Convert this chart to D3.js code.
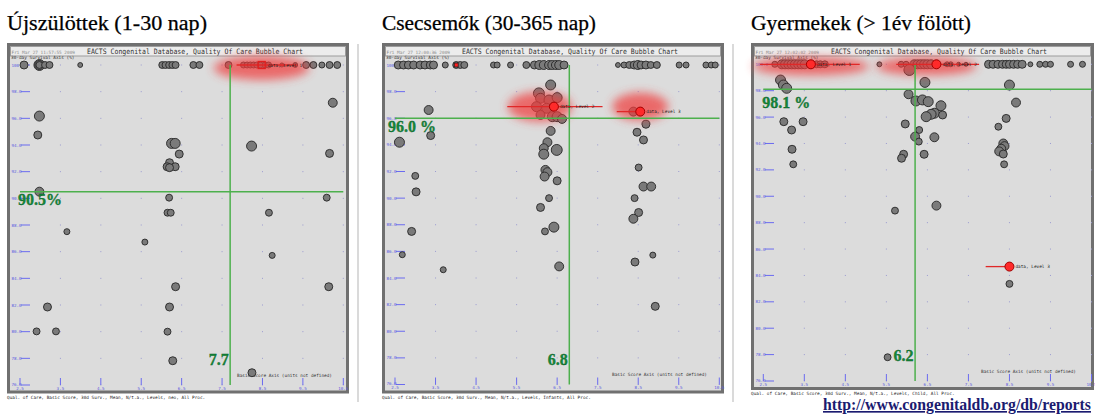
<!DOCTYPE html>
<html>
<head>
<meta charset="utf-8">
<script src="https://cdn.jsdelivr.net/npm/d3@7"></script>
<style>
  html, body { margin: 0; padding: 0; background: #ffffff; }
  svg { display: block; }
</style>
</head>
<body>
<svg id="chart" width="1095" height="415"></svg>
<script>
// ---------- shared axes ----------
const scoreTicks = [2.5, 3.5, 4.5, 5.5, 6.5, 7.5, 8.5, 9.5, 10.5];
const survivalTicks = [76, 78, 80, 82, 84, 86, 88, 90, 92, 94, 96, 98, 100];

const panelTitles = ["Újszülöttek (1-30 nap)", "Csecsemők (30-365 nap)", "Gyermekek (> 1év fölött)"];
const chartTitle = "EACTS Congenital Database, Quality Of Care Bubble Chart";
const panelStamps = ["Fri Mar 27 11:57:55 2009", "Fri Mar 27 12:00:36 2009", "Fri Mar 27 12:02:02 2009"];
const panelFooters = [
  "Qual. of Care, Basic Score, 30d Surv., Mean, N/t.a., Levels, neo, All Proc.",
  "Qual. of Care, Basic Score, 30d Surv., Mean, N/t.a., Levels, Infants, All Proc.",
  "Qual. of Care, Basic Score, 30d Surv., Mean, N/t.a., Levels, Child, All Proc."
];
const survivalAxisTitle = "30-day Survival Axis (%)";
const scoreAxisTitle = "Basic Score Axis (units not defined)";
const sourceUrl = "http://www.congenitaldb.org/db/reports";

// mean basic score / mean survival per age group
const meanScore = [7.7, 6.8, 6.2];
const meanSurvival = [90.5, 96.0, 98.1];
const meanScoreLabels = ["7.7", "6.8", "6.2"];
const meanSurvivalLabels = ["90.5%", "96.0 %", "98.1 %"];

// ---------- neonates ----------
const neoScore = [2.6, 2.98, 2.98, 2.98, 3.12, 3.23, 3.99, 6.02, 6.1, 6.19, 6.27, 6.35, 6.79, 6.94, 7.66,
  8.03, 8.12, 8.2, 8.28, 8.36, 8.45, 8.57, 8.65, 8.98, 9.31, 9.58, 9.76, 9.97, 10.16, 10.35,
  10.24, 2.98, 2.94, 6.25, 6.34, 6.44, 8.23, 10.16, 6.2, 6.14, 6.34, 6.2, 2.98, 6.19, 10.09,
  6.15, 6.23, 8.66, 3.66, 5.59, 8.74, 6.35, 10.14, 3.18, 6.2, 2.91, 3.39, 6.15, 6.28, 8.24];
const neoSurvival = [100, 100, 100, 100, 100, 100, 100, 100, 100, 100, 100, 100, 100, 100, 100,
  100, 100, 100, 100, 100, 100, 100, 100, 100, 100, 100, 100, 100, 100, 100,
  97.17, 96.17, 94.75, 94.12, 94.12, 93.32, 93.92, 93.37, 92.67, 92.37, 92.37, 92.3, 90.5, 90.05, 90.05,
  88.92, 88.92, 88.92, 87.5, 86.72, 85.72, 83.37, 83.37, 81.85, 81.85, 80.02, 80.02, 80.0, 77.82, 76.92];
const neoCases = [16, 30, 20, 12, 12, 12, 6, 12, 12, 12, 12, 12, 12, 12, 12,
  9, 9, 9, 9, 9, 9, 9, 9, 4, 6, 12, 12, 9, 12, 12,
  20, 25, 16, 25, 25, 16, 25, 16, 16, 16, 16, 16, 20, 12, 12,
  12, 12, 12, 9, 9, 9, 16, 16, 16, 16, 12, 12, 12, 16, 16];
const neoLevelName = ["Level 1"];
const neoLevelScore = [8.48];
const neoLevelSurvival = [100];
const neoLevelLow = [7.86];
const neoLevelHigh = [9.35];

// ---------- infants ----------
const infScore = [2.58, 2.71, 2.83, 2.96, 3.12, 3.24, 3.37, 3.45, 3.74, 4.01, 4.11, 4.21, 4.93, 5.02, 5.35,
  5.74, 5.94, 6.06, 6.17, 6.3, 6.38, 6.47, 6.55, 6.67, 8.0, 8.15, 8.28, 8.4, 8.49, 8.57, 8.69,
  8.81, 8.96, 9.51, 9.68, 10.17, 10.3, 10.4,
  6.34, 6.05, 6.09, 6.3, 6.5, 5.99, 6.24, 6.09, 6.38, 6.5, 6.62, 3.33, 3.38, 2.61, 6.34, 6.26,
  6.17, 6.49, 6.17, 8.38, 8.69, 8.47, 8.63, 6.21, 6.26, 6.19, 6.5, 3.0, 3.02, 6.3, 6.09, 6.42,
  6.2, 2.91, 2.68, 3.69, 6.55, 8.51, 8.63, 8.82, 8.41, 8.51, 8.38, 8.86, 8.42, 8.92];
const infSurvival = [100, 100, 100, 100, 100, 100, 100, 100, 100, 100, 100, 100, 100, 100, 100,
  100, 100, 100, 100, 100, 100, 100, 100, 100, 100, 100, 100, 100, 100, 100, 100,
  100, 100, 100, 100, 100, 100, 100,
  98.5, 97.87, 97.5, 97.37, 97.55, 96.87, 96.75, 96.25, 96.12, 96.12, 95.95, 96.62, 94.7, 94.2, 95.05, 94.2,
  93.75, 93.62, 93.3, 96.5, 95.55, 94.95, 94.37, 92.12, 91.95, 91.62, 91.3, 91.67, 90.47, 90.0, 89.3, 87.82,
  87.5, 87.5, 85.75, 84.62, 84.87, 92.3, 90.87, 90.87, 90.0, 88.92, 88.45, 85.72, 85.2, 81.87];
const infCases = [16, 16, 16, 16, 16, 16, 16, 16, 9, 12, 12, 12, 9, 9, 9,
  12, 16, 20, 20, 20, 20, 20, 20, 16, 6, 9, 12, 16, 20, 16, 16,
  12, 12, 9, 9, 9, 9, 9,
  25, 30, 25, 25, 25, 25, 25, 20, 25, 25, 20, 20, 16, 25, 20, 20,
  20, 30, 25, 20, 16, 16, 16, 20, 20, 20, 16, 12, 16, 12, 16, 25,
  12, 16, 9, 9, 20, 12, 20, 20, 12, 16, 20, 9, 16, 16];
const infLevelName = ["Level 2", "Level 3"];
const infLevelScore = [6.42, 8.55];
const infLevelSurvival = [96.87, 96.5];
const infLevelLow = [5.27, 7.97];
const infLevelHigh = [7.62, 8.55];
const infFlagScore = [4.01];
const infFlagSurvival = [100];

// ---------- children ----------
const chScore = [2.78, 2.95, 3.03, 3.11, 3.19, 3.27, 3.35, 3.43, 3.51, 3.8, 3.89, 4.0, 5.33, 5.86, 5.98,
  6.18, 6.26, 6.34, 6.42, 6.5, 6.59, 6.06, 6.98, 7.07, 7.26, 7.44,
  7.99, 8.1, 8.22, 8.33, 8.42, 8.5, 8.6, 8.7, 8.81, 9.01, 9.24, 9.38, 9.5, 9.99, 10.28,
  2.92, 2.99, 3.07, 6.44, 8.5, 6.04, 6.22, 6.38, 6.52, 6.83, 8.66, 6.67, 6.59, 6.47, 6.87,
  3.0, 3.47, 3.19, 5.96, 6.3, 8.42, 8.23, 6.2, 6.29, 6.67, 3.2, 8.35, 8.38, 8.3, 8.25, 8.35,
  5.92, 5.87, 6.42, 3.23, 8.37, 5.71, 6.72, 8.5, 5.53];
const chSurvival = [100, 100, 100, 100, 100, 100, 100, 100, 100, 100, 100, 100, 100, 100, 100,
  100, 100, 100, 100, 100, 100, 99.57, 100, 100, 100, 100,
  100, 100, 100, 100, 100, 100, 100, 100, 100, 100, 100, 100, 100, 100, 100,
  98.81, 98.43, 98.18, 98.63, 98.43, 97.73, 97.22, 97.3, 97.17, 96.86, 97.1, 96.29, 96.21, 96.03, 96.16,
  95.65, 95.65, 95.02, 95.48, 95.02, 95.9, 95.27, 94.52, 94.14, 94.47, 93.56, 94.0, 93.8, 93.6, 93.4, 93.2,
  93.18, 92.88, 93.18, 92.42, 92.42, 88.91, 89.29, 83.36, 77.8];
const chCases = [9, 20, 20, 20, 20, 20, 20, 20, 20, 12, 12, 12, 6, 9, 9,
  20, 20, 20, 20, 20, 20, 30, 6, 6, 4, 4,
  16, 16, 16, 16, 16, 16, 16, 16, 16, 6, 9, 9, 9, 9, 9,
  25, 25, 25, 25, 25, 20, 25, 25, 25, 25, 20, 25, 25, 25, 16,
  16, 16, 16, 16, 12, 16, 12, 20, 12, 20, 16, 20, 20, 20, 20, 16,
  16, 16, 16, 12, 12, 12, 20, 12, 12];
const chLevelName = ["Level 1", "Level 2", "Level 3"];
const chLevelScore = [3.66, 6.72, 8.5];
const chLevelSurvival = [100, 100, 84.67];
const chLevelLow = [2.42, 5.74, 7.92];
const chLevelHigh = [4.85, 7.76, 8.5];

// ---------- panel layout (pixels) ----------
const panels = [
  { title: panelTitles[0], stamp: panelStamps[0], footer: panelFooters[0],
    score: neoScore, surv: neoSurvival, cases: neoCases,
    level: { name: neoLevelName, score: neoLevelScore, surv: neoLevelSurvival, lo: neoLevelLow, hi: neoLevelHigh },
    flag: null, mean: 0,
    box: { left: 7, right: 349, top: 44, bottom: 393 }, titleLen: 200,
    xr: [20, 343.3], yr: [65, 385], markerShape: "square",
    glows: [{ rx: 48, ry: 12, dx: 0, dy: 3 }], meanLabel: { dx: -2, dy: 13.5 } },
  { title: panelTitles[1], stamp: panelStamps[1], footer: panelFooters[1],
    score: infScore, surv: infSurvival, cases: infCases,
    level: { name: infLevelName, score: infLevelScore, surv: infLevelSurvival, lo: infLevelLow, hi: infLevelHigh },
    flag: { score: infFlagScore, surv: infFlagSurvival }, mean: 1,
    box: { left: 382, right: 724, top: 44, bottom: 393 }, titleLen: 214,
    xr: [395, 719.3], yr: [65, 384.5], markerShape: "circle",
    glows: [{ rx: 32, ry: 15, dx: -14, dy: 0 }, { rx: 28, ry: 14, dx: 0, dy: -5 }], meanLabel: { dx: -7, dy: 14 } },
  { title: panelTitles[2], stamp: panelStamps[2], footer: panelFooters[2],
    score: chScore, surv: chSurvival, cases: chCases,
    level: { name: chLevelName, score: chLevelScore, surv: chLevelSurvival, lo: chLevelLow, hi: chLevelHigh },
    flag: null, mean: 2,
    box: { left: 751, right: 1094, top: 44, bottom: 389.5 }, titleLen: 220,
    xr: [763.3, 1091.5], yr: [64.3, 381], markerShape: "circle",
    glows: [{ rx: 58, ry: 9, dx: 0, dy: 2 }, { rx: 50, ry: 9, dx: -10, dy: 2 }, null], meanLabel: { dx: -1, dy: 18.6 } }
];

const svg = d3.select("#chart");
const defs = svg.append("defs");
defs.append("filter").attr("id", "glow").attr("x", "-50%").attr("y", "-100%").attr("width", "200%").attr("height", "300%")
  .append("feGaussianBlur").attr("stdDeviation", 5);

const rScale = d3.scaleSqrt().domain([0, 100]).range([0, 10]);
const fmt = d3.format(".1f");
const tiny = "'DejaVu Sans Mono', monospace";

// separators between the panels
[358, 733].forEach(x => {
  svg.append("line").attr("x1", x).attr("x2", x).attr("y1", 44).attr("y2", 402)
    .attr("stroke", "#b5b5b5").attr("stroke-width", 1);
});

panels.forEach(p => {
  const g = svg.append("g");
  const b = p.box;
  const x = d3.scaleLinear().domain([2.5, 10.5]).range(p.xr);
  const y = d3.scaleLinear().domain([76, 100]).range([p.yr[1], p.yr[0]]);

  // age group heading
  g.append("text").attr("x", b.left).attr("y", 29.5)
    .attr("font-family", "'Liberation Serif', serif").attr("font-size", 20.5)
    .attr("textLength", p.titleLen).attr("lengthAdjust", "spacingAndGlyphs")
    .attr("fill", "#000").attr("stroke", "#000").attr("stroke-width", 0.25).text(p.title);

  // frame and plotting area
  g.append("rect").attr("x", b.left + 1.5).attr("y", b.top + 0.5)
    .attr("width", b.right - b.left - 3).attr("height", b.bottom - b.top - 1.5)
    .attr("fill", "#dcdcdc").attr("stroke", "#707070").attr("stroke-width", 3);
  g.append("rect").attr("x", b.left + 3.5).attr("y", b.top + 2.5)
    .attr("width", b.right - b.left - 7).attr("height", 9.5)
    .attr("fill", "#ececec").attr("stroke", "#9c9c9c").attr("stroke-width", 1);
  g.append("text").attr("x", b.left + 4.5).attr("y", b.top + 9.5)
    .attr("font-family", tiny).attr("font-size", 4.4).attr("fill", "#8a8a8a").text(p.stamp);
  g.append("text").attr("x", b.left + 80).attr("y", b.top + 9.8)
    .attr("font-family", tiny).attr("font-size", 7.4).attr("fill", "#333")
    .attr("textLength", 216).attr("lengthAdjust", "spacingAndGlyphs").text(chartTitle);

  // grid dots
  const dots = [];
  scoreTicks.slice(1).forEach(sx => survivalTicks.forEach(sy => dots.push([sx, sy])));
  g.append("g").selectAll("rect").data(dots).join("rect")
    .attr("x", d => x(d[0]) - 0.5).attr("y", d => y(d[1]) - 0.5)
    .attr("width", 1).attr("height", 1).attr("fill", "#9a9ad0");

  // survival axis: labels with short tick lines
  const ya = g.append("g");
  ya.selectAll("line").data(survivalTicks).join("line")
    .attr("x1", d => b.left + (d === 100 ? 16.5 : 14)).attr("x2", b.left + 23)
    .attr("y1", d => y(d)).attr("y2", d => y(d))
    .attr("stroke", "#6b6bf0").attr("stroke-width", 1);
  ya.selectAll("text").data(survivalTicks).join("text")
    .attr("x", b.left + 4.5).attr("y", d => y(d) + (d === 76 ? 0.6 : 1.6))
    .attr("font-family", tiny).attr("font-size", 4.2).attr("fill", "#5a5ae0")
    .text(d => fmt(d));

  // score axis: ticks along the bottom
  const xa = g.append("g");
  xa.selectAll("line").data(scoreTicks).join("line")
    .attr("x1", d => x(d)).attr("x2", d => x(d))
    .attr("y1", p.yr[1] - 7).attr("y2", p.yr[1])
    .attr("stroke", "#6b6bf0").attr("stroke-width", 1);
  xa.selectAll("text").data(scoreTicks).join("text")
    .attr("x", d => x(d)).attr("y", p.yr[1] + 4.5)
    .attr("text-anchor", "middle")
    .attr("font-family", tiny).attr("font-size", 4.2).attr("fill", "#5a5ae0")
    .text(d => fmt(d));

  // axis titles
  g.append("text").attr("x", b.left + 4).attr("y", b.top + 15.3)
    .attr("font-family", tiny).attr("font-size", 4.4).attr("fill", "#333").text(survivalAxisTitle);
  g.append("text").attr("x", b.left + 230).attr("y", p.yr[1] - 8.5)
    .attr("font-family", tiny).attr("font-size", 4.4).attr("fill", "#333")
    .attr("textLength", 95).attr("lengthAdjust", "spacingAndGlyphs").text(scoreAxisTitle);

  // hospital bubbles
  const pts = p.score.map((s, i) => ({ s, v: p.surv[i], n: p.cases[i] }));
  g.append("g").selectAll("circle").data(pts).join("circle")
    .attr("cx", d => x(d.s)).attr("cy", d => y(d.v)).attr("r", d => rScale(d.n))
    .attr("fill", "#7a7a7a").attr("stroke", "#262626").attr("stroke-width", 0.9);

  // highlighted-level glow
  const lv = p.level.name.map((name, i) => ({
    name, s: p.level.score[i], v: p.level.surv[i], lo: p.level.lo[i], hi: p.level.hi[i], glow: p.glows[i]
  }));
  g.append("g").selectAll("ellipse").data(lv.filter(d => d.glow)).join("ellipse")
    .attr("cx", d => x(d.s) + d.glow.dx).attr("cy", d => y(d.v) + d.glow.dy)
    .attr("rx", d => d.glow.rx).attr("ry", d => d.glow.ry)
    .attr("fill", "#f03c3c").attr("opacity", 0.72).attr("filter", "url(#glow)");

  // mean lines
  g.append("line").attr("x1", p.xr[0]).attr("x2", p.xr[1])
    .attr("y1", y(meanSurvival[p.mean])).attr("y2", y(meanSurvival[p.mean]))
    .attr("stroke", "#4db04d").attr("stroke-width", 1.5);
  g.append("line").attr("x1", x(meanScore[p.mean])).attr("x2", x(meanScore[p.mean]))
    .attr("y1", y(100)).attr("y2", y(76))
    .attr("stroke", "#4db04d").attr("stroke-width", 1.5);

  // error bars, markers and labels of the highlighted levels
  const lg = g.append("g");
  lg.selectAll("line").data(lv).join("line")
    .attr("x1", d => x(d.lo)).attr("x2", d => x(d.hi))
    .attr("y1", d => y(d.v)).attr("y2", d => y(d.v))
    .attr("stroke", "#e02828").attr("stroke-width", 1.3);
  if (p.markerShape === "square") {
    lg.selectAll("rect").data(lv).join("rect")
      .attr("x", d => x(d.s) - 3.5).attr("y", d => y(d.v) - 3.5)
      .attr("width", 7).attr("height", 7)
      .attr("fill", "none").attr("stroke", "#e02020").attr("stroke-width", 1.3);
  } else {
    lg.selectAll("circle").data(lv).join("circle")
      .attr("cx", d => x(d.s)).attr("cy", d => y(d.v)).attr("r", 4.5)
      .attr("fill", "#ff2a2a").attr("stroke", "#a00000").attr("stroke-width", 1);
  }
  lg.selectAll("text").data(lv).join("text")
    .attr("x", d => x(d.s) + 6).attr("y", d => y(d.v) + 1.5)
    .attr("font-family", tiny).attr("font-size", 4.4).attr("fill", "#222")
    .text(d => "data, " + d.name);

  if (p.flag) {
    g.append("g").selectAll("rect").data(p.flag.score.map((s, i) => [s, p.flag.surv[i]])).join("rect")
      .attr("x", d => x(d[0]) - 2).attr("y", d => y(d[1]) - 2)
      .attr("width", 4).attr("height", 4)
      .attr("fill", "#ff2020").attr("stroke", "#202020").attr("stroke-width", 0.8);
  }

  // mean value labels
  g.append("text")
    .attr("x", p.xr[0] + p.meanLabel.dx).attr("y", y(meanSurvival[p.mean]) + p.meanLabel.dy)
    .attr("font-family", "'Liberation Serif', serif").attr("font-weight", "bold").attr("font-size", 16)
    .attr("fill", "#14883a").attr("stroke", "#0b5a26").attr("stroke-width", 0.3)
    .text(meanSurvivalLabels[p.mean]);
  g.append("text")
    .attr("x", x(meanScore[p.mean]) - 1.5).attr("y", p.yr[1] - 20)
    .attr("text-anchor", "end")
    .attr("font-family", "'Liberation Serif', serif").attr("font-weight", "bold").attr("font-size", 16)
    .attr("fill", "#14883a").attr("stroke", "#0b5a26").attr("stroke-width", 0.3)
    .text(meanScoreLabels[p.mean]);

  // footer caption
  g.append("text").attr("x", b.left).attr("y", b.bottom + 5.5)
    .attr("font-family", tiny).attr("font-size", 4.4).attr("fill", "#222").text(p.footer);
});

// report source link
svg.append("text").attr("x", 823).attr("y", 410)
  .attr("font-family", "'Liberation Serif', serif").attr("font-weight", "bold").attr("font-size", 16.5)
  .attr("textLength", 268).attr("lengthAdjust", "spacingAndGlyphs")
  .attr("fill", "#1b1b70").attr("text-decoration", "underline")
  .text(sourceUrl);
</script>
</body>
</html>
